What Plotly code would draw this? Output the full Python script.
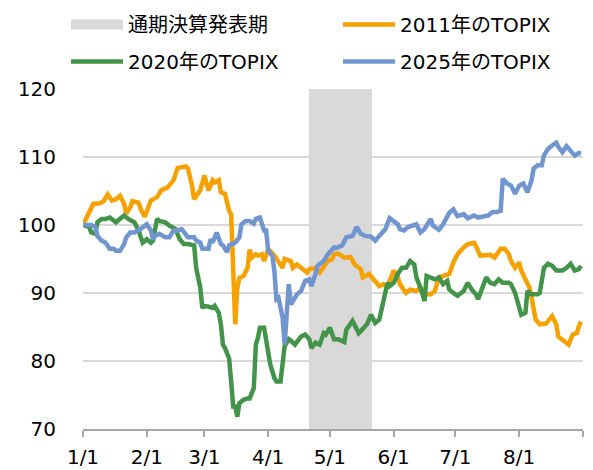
import plotly.graph_objects as go
import pandas as pd

YEAR = "2025"

# ---- data ----
period_label = "通期決算発表期"
period_start = "2025-04-20T22:00"
period_end = "2025-05-21T14:00"
y_min, y_max = 70, 120

tick_dates = ["1/1", "2/1", "3/1", "4/1", "5/1", "6/1", "7/1", "8/1", "9/1"]
tick_labels = ["1/1", "2/1", "3/1", "4/1", "5/1", "6/1", "7/1", "8/1", ""]
y_ticks = [70, 80, 90, 100, 110, 120]

d2011 = ["1/1", "1/4", "1/6", "1/9", "1/11", "1/13", "1/15", "1/17", "1/19", "1/21", "1/22", "1/24", "1/25",
         "1/28", "1/29", "1/31", "2/2", "2/3", "2/6", "2/8", "2/11", "2/14", "2/16", "2/20", "2/21", "2/23",
         "2/24", "2/27", "3/1", "3/3", "3/5", "3/6", "3/8", "3/9", "3/11", "3/13", "3/14", "3/15", "3/16",
         "3/17", "3/18", "3/20", "3/22", "3/23", "3/24", "3/26", "3/27", "3/29", "3/30", "4/1", "4/2", "4/4",
         "4/6", "4/8", "4/9", "4/12", "4/13", "4/15", "4/17", "4/20", "4/21", "4/24", "4/26", "4/28", "4/30",
         "5/2", "5/3", "5/5", "5/8", "5/11", "5/13", "5/16", "5/17", "5/20", "5/22", "5/25", "5/27", "5/29",
         "6/1", "6/3", "6/4", "6/7", "6/9", "6/12", "6/14", "6/16", "6/19", "6/21", "6/23", "6/25", "6/28",
         "6/30", "7/2", "7/5", "7/7", "7/10", "7/11", "7/13", "7/15", "7/18", "7/20", "7/23", "7/25", "7/27",
         "7/28", "7/30", "8/1", "8/2", "8/4", "8/6", "8/7", "8/9", "8/11", "8/14", "8/17", "8/19", "8/20",
         "8/23", "8/25", "8/27", "8/29", "8/30", "8/31"]
v2011 = [100.0, 101.9, 103.1, 103.2, 103.5, 104.5, 103.6, 103.8, 104.3, 103.1, 101.7, 102.6, 103.5,
         103.3, 102.4, 101.2, 102.9, 103.6, 104.1, 105.1, 105.5, 106.6, 108.4, 108.6, 108.3, 105.8,
         103.8, 105.1, 107.3, 105.1, 106.6, 106.3, 106.6, 104.8, 104.6, 102.1, 101.6, 94.2, 85.4,
         90.7, 92.2, 92.5, 93.7, 96.4, 95.2, 95.7, 95.5, 95.7, 94.7, 96.4, 96.2, 95.5,
         94.7, 93.7, 95.0, 94.7, 93.7, 94.2, 93.7, 93.0, 93.5, 93.7, 93.0, 94.0, 94.7,
         95.0, 95.7, 95.8, 95.2, 95.3, 94.2, 93.5, 92.3, 92.8, 92.0, 91.0, 91.3, 91.0,
         93.3, 92.3, 91.3, 90.0, 90.5, 90.3, 90.8, 89.8, 89.8, 90.3, 92.3, 92.5, 92.8,
         94.5, 95.7, 96.7, 97.2, 97.4, 96.9, 95.5, 95.5, 95.6, 95.2, 96.5, 96.5, 95.7,
         94.7, 93.7, 94.5, 93.3, 92.0, 90.8, 89.3, 86.1, 85.4, 85.5, 86.6, 85.4, 83.6,
         82.9, 82.4, 83.9, 84.1, 85.1, 85.8]

d2020 = ["1/1", "1/4", "1/5", "1/7", "1/8", "1/10", "1/12", "1/14", "1/17", "1/19", "1/21", "1/23", "1/25",
         "1/26", "1/28", "1/29", "1/30", "2/1", "2/3", "2/4", "2/6", "2/7", "2/10", "2/12", "2/15", "2/17",
         "2/19", "2/21", "2/24", "2/25", "2/27", "2/28", "3/1", "3/3", "3/5", "3/6", "3/8", "3/9", "3/10",
         "3/11", "3/13", "3/14", "3/15", "3/16", "3/17", "3/18", "3/20", "3/22", "3/23", "3/25", "3/26",
         "3/27", "3/28", "3/30", "3/31", "4/2", "4/4", "4/5", "4/7", "4/8", "4/9", "4/11", "4/12", "4/14",
         "4/16", "4/17", "4/19", "4/21", "4/22", "4/24", "4/26", "4/28", "4/29", "5/1", "5/3", "5/5", "5/8",
         "5/9", "5/12", "5/13", "5/15", "5/16", "5/19", "5/21", "5/23", "5/25", "5/27", "5/29", "5/30",
         "6/1", "6/3", "6/5", "6/7", "6/9", "6/11", "6/12", "6/14", "6/16", "6/17", "6/19", "6/21", "6/23",
         "6/25", "6/27", "6/28", "6/30", "7/2", "7/5", "7/7", "7/9", "7/11", "7/12", "7/14", "7/16", "7/18",
         "7/20", "7/22", "7/24", "7/27", "7/28", "7/30", "8/1", "8/2", "8/4", "8/5", "8/7", "8/10", "8/11",
         "8/13", "8/15", "8/17", "8/19", "8/22", "8/24", "8/26", "8/28", "8/30", "8/31"]
v2020 = [100.0, 99.7, 98.9, 98.7, 100.4, 100.9, 100.9, 101.1, 100.4, 101.0, 101.4, 100.9, 100.6,
         100.4, 99.2, 98.4, 97.4, 97.9, 97.4, 97.7, 100.9, 100.6, 100.4, 99.9, 99.4, 97.9,
         97.2, 97.2, 97.0, 93.7, 90.8, 87.8, 88.1, 88.0, 87.8, 88.1, 87.1, 85.4, 82.4,
         81.9, 80.4, 77.0, 73.3, 73.3, 71.8, 73.8, 74.3, 74.5, 74.5, 76.0, 82.4,
         83.4, 84.9, 84.9, 82.9, 79.5, 77.5, 77.0, 77.0, 80.0, 82.2, 83.2, 83.0, 82.4,
         83.4, 83.6, 83.9, 83.2, 81.9, 82.7, 82.4, 84.1, 83.9, 84.9, 83.2, 83.2, 82.8,
         84.6, 85.9, 85.4, 84.1, 84.4, 85.4, 86.8, 85.6, 86.1, 89.1, 91.5, 91.0,
         91.5, 92.8, 93.7, 93.7, 94.7, 94.2, 92.3, 90.8, 88.8, 92.5, 92.3, 92.0, 92.3,
         91.3, 91.8, 90.5, 90.0, 89.6, 90.3, 91.5, 90.5, 89.8, 89.1, 90.8, 92.3, 91.5,
         91.3, 92.0, 91.5, 91.5, 91.3, 90.0, 87.8, 86.8, 87.1, 90.3, 89.8, 89.8, 90.0,
         93.7, 94.3, 94.0, 93.3, 93.3, 93.7, 94.3, 93.3, 93.5, 94.0]

d2025 = ["1/1", "1/5", "1/7", "1/8", "1/10", "1/12", "1/14", "1/16", "1/17", "1/19", "1/21", "1/22", "1/24",
         "1/26", "1/29", "1/30", "2/1", "2/3", "2/4", "2/5", "2/7", "2/10", "2/12", "2/14", "2/16", "2/18",
         "2/20", "2/21", "2/24", "2/25", "2/27", "2/28", "3/3", "3/4", "3/5", "3/7", "3/9", "3/10", "3/12",
         "3/13", "3/16", "3/18", "3/19", "3/21", "3/23", "3/25", "3/26", "3/28", "3/30", "3/31", "4/1",
         "4/3", "4/4", "4/5", "4/6", "4/8", "4/9", "4/10", "4/11", "4/12", "4/13", "4/15", "4/17", "4/19",
         "4/21", "4/22", "4/24", "4/25", "4/28", "4/30", "5/3", "5/4", "5/7", "5/9", "5/12", "5/14", "5/16",
         "5/18", "5/21", "5/23", "5/25", "5/28", "5/30", "6/1", "6/3", "6/4", "6/6", "6/8", "6/11", "6/12",
         "6/14", "6/16", "6/19", "6/20", "6/23", "6/25", "6/28", "6/30", "7/2", "7/5", "7/7", "7/10",
         "7/12", "7/15", "7/17", "7/19", "7/21", "7/23", "7/24", "7/26", "7/28", "7/30", "8/1", "8/3",
         "8/5", "8/7", "8/8", "8/10", "8/12", "8/13", "8/15", "8/17", "8/19", "8/20", "8/22", "8/24",
         "8/25", "8/27", "8/28", "8/30", "8/31"]
v2025 = [100.0, 100.0, 99.7, 98.4, 97.7, 97.4, 96.5, 96.5, 96.2, 96.2, 97.2, 98.2, 98.9,
         98.9, 99.4, 99.7, 100.1, 99.2, 97.9, 98.4, 98.7, 98.2, 98.2, 99.2, 99.2, 99.4,
         98.4, 98.2, 98.2, 97.7, 97.4, 96.5, 96.5, 97.9, 97.4, 98.9, 97.2, 97.0, 96.0,
         97.0, 97.4, 98.2, 100.1, 100.6, 100.6, 100.2, 100.9, 101.1, 99.2, 99.2, 96.2,
         95.5, 93.3, 89.1, 89.3, 86.4, 82.4, 86.4, 91.3, 88.3, 88.8, 89.8, 90.3, 91.8,
         92.0, 91.0, 92.8, 94.0, 94.7, 95.7, 96.7, 96.6, 97.0, 98.2, 98.4, 99.7, 98.7,
         98.4, 98.3, 97.7, 98.4, 99.4, 101.0, 100.6, 100.1, 99.4, 99.2, 99.7, 99.9, 100.1,
         98.9, 99.4, 100.9, 99.9, 99.3, 100.1, 101.8, 102.3, 101.3, 101.6, 101.0, 101.4,
         101.1, 101.2, 101.4, 101.9, 101.9, 102.1, 106.8, 106.1, 105.8, 104.6, 105.8, 106.1,
         104.8, 106.6, 108.3, 108.8, 108.8, 110.2, 111.2, 111.7, 112.1, 111.5, 110.7, 111.6,
         111.2, 110.5, 110.2, 110.6, 110.5]

series = [
    ("2011年のTOPIX", d2011, v2011, "#F5A100", "legend"),
    ("2020年のTOPIX", d2020, v2020, "#43944A", "legend2"),
    ("2025年のTOPIX", d2025, v2025, "#7196CF", "legend2"),
]

SHADE = "#D9D9D9"
FONT = "DejaVu Sans, Noto Sans CJK JP, sans-serif"


def to_dates(md):
    return pd.to_datetime([f"{YEAR}/{s}" for s in md], format="%Y/%m/%d")


fig = go.Figure()

p0 = pd.Timestamp(period_start)
p1 = pd.Timestamp(period_end)
fig.add_trace(go.Bar(
    x=[p0 + (p1 - p0) / 2], y=[y_max - y_min], base=[y_min],
    width=[(p1 - p0).total_seconds() * 1000],
    marker=dict(color=SHADE, line=dict(width=0)),
    showlegend=False, hoverinfo="skip",
))
# legend entry for the shaded period
fig.add_trace(go.Scatter(
    x=[None], y=[None], mode="lines", name=period_label,
    line=dict(color=SHADE, width=14), legend="legend",
))

for name, d, v, color, lg in series:
    fig.add_trace(go.Scatter(
        x=to_dates(d), y=v, mode="lines", name=name,
        line=dict(color=color, width=4.5), legend=lg,
    ))

legend_common = dict(
    orientation="h", xanchor="left", yanchor="middle",
    entrywidth=205, entrywidthmode="pixels", itemwidth=52,
    font=dict(size=20, color="#000000", family=FONT),
    bgcolor="rgba(0,0,0,0)", traceorder="normal",
)

# the page body adds an 8px offset; the figure is sized to fit the window and
# the margins place the plot area at x 83..583, y 89..429 of the window
fig.update_layout(
    width=585, height=462,
    margin=dict(l=75, r=10, t=81, b=41, autoexpand=False),
    paper_bgcolor="white", plot_bgcolor="white",
    font=dict(family=FONT, size=20, color="#000000"),
    showlegend=True,
    legend=dict(x=-0.034, y=1.19, **legend_common),
    legend2=dict(x=-0.034, y=1.081, **legend_common),
    xaxis=dict(
        type="date",
        range=[pd.Timestamp(f"{YEAR}-01-01"), pd.Timestamp(f"{YEAR}-09-01")],
        tickmode="array", tickvals=to_dates(tick_dates), ticktext=tick_labels,
        ticks="outside", ticklen=6, tickwidth=1.5, tickcolor="#A6A6A6",
        showline=True, linecolor="#A6A6A6", linewidth=1.5,
        showgrid=False, zeroline=False, ticklabelstandoff=3,
        tickfont=dict(size=20),
    ),
    yaxis=dict(
        range=[y_min, y_max], tickmode="array", tickvals=y_ticks,
        showgrid=True, gridcolor="#D9D9D9", gridwidth=1.5,
        showline=False, zeroline=False, ticks="", ticklabelstandoff=26,
        tickfont=dict(size=20),
    ),
    bargap=0,
)

fig.write_html("out.html")
